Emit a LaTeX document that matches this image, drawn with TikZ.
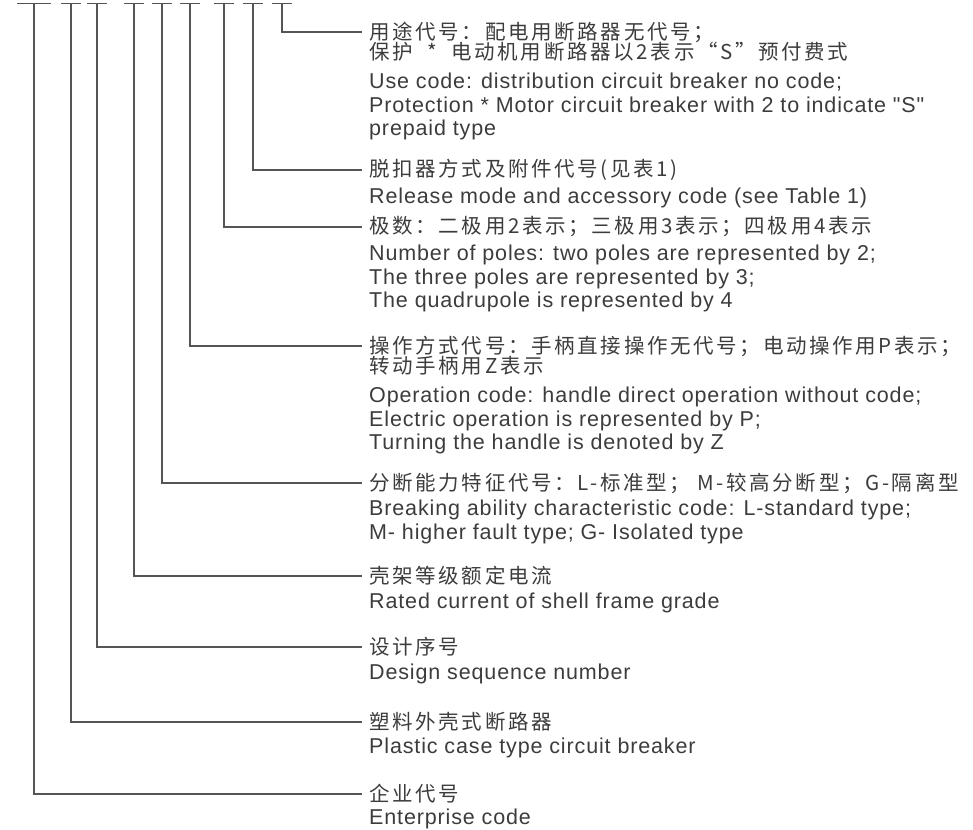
\documentclass[tikz,border=0pt]{standalone}
\usepackage{fontspec}
\newfontfamily\enfont{Liberation Sans}[LetterSpace=4]
\newfontfamily\cnfont{Noto Sans CJK SC}[LetterSpace=13]
\definecolor{ink}{HTML}{3C3C3C}
\definecolor{rule}{HTML}{555555}
\tikzset{
cn/.style={font={\cnfont\fontsize{20.5pt}{20pt}\selectfont},anchor=west,inner sep=0pt,text=ink},
en/.style={font={\enfont\fontsize{21.5pt}{23.5pt}\selectfont},anchor=north west,align=left,inner sep=0pt,text=ink},
lead/.style={draw=rule,line width=1.4pt}
}
\begin{document}
\begin{tikzpicture}[x=1pt,y=-1pt]
\useasboundingbox (0,0) rectangle (973,829);
% use code
\node[cn] (use) at (369,32) {用途代号：配电用断路器无代号；};
\node[cn] (use2) at (369,52) {保护 \ * \ 电动机用断路器以2表示“S”预付费式};
\node[en] (useen) at (369,73) {Use code: distribution circuit breaker no code;\\
Protection * Motor circuit breaker with 2 to indicate "S"\\
prepaid type};
% release
\node[cn] (release) at (369,170) {脱扣器方式及附件代号(见表1)};
\node[en] (releaseen) at (369,188) {Release mode and accessory code (see Table 1)};
% poles
\node[cn] (poles) at (369,227) {极数：二极用2表示；三极用3表示；四极用4表示};
\node[en] (polesen) at (369,245) {Number of poles: two poles are represented by 2;\\
The three poles are represented by 3;\\
The quadrupole is represented by 4};
% operation
\node[cn] (oper) at (369,346) {操作方式代号：手柄直接操作无代号；电动操作用P表示；};
\node[cn] (oper2) at (369,366) {转动手柄用Z表示};
\node[en] (operen) at (369,387) {Operation code: handle direct operation without code;\\
Electric operation is represented by P;\\
Turning the handle is denoted by Z};
% breaking ability
\node[cn] (brk) at (369,483) {分断能力特征代号：L-标准型； M-较高分断型；G-隔离型};
\node[en] (brken) at (369,500) {Breaking ability characteristic code: L-standard type;\\
M- higher fault type; G- Isolated type};
% frame current
\node[cn] (rated) at (369,576) {壳架等级额定电流};
\node[en] (rateden) at (369,593) {Rated current of shell frame grade};
% design
\node[cn] (design) at (369,647) {设计序号};
\node[en] (designen) at (369,664) {Design sequence number};
% plastic case
\node[cn] (plastic) at (369,722) {塑料外壳式断路器};
\node[en] (plasticen) at (369,738) {Plastic case type circuit breaker};
% enterprise
\node[cn] (ent) at (369,794) {企业代号};
\node[en] (enten) at (369,809) {Enterprise code};
% leaders
\foreach \x/\w/\n in {34/17/ent,71/10/plastic,97/10/design,134/10/rated,162/10/brk,
190/10/oper,224/10/poles,253/10/release,282/10/use}
  \draw[lead] (\x-\w,3.5) -- (\x+\w,3.5) (\x,3.5) |- ([xshift=-7pt]\n.west);
\end{tikzpicture}
\end{document}
